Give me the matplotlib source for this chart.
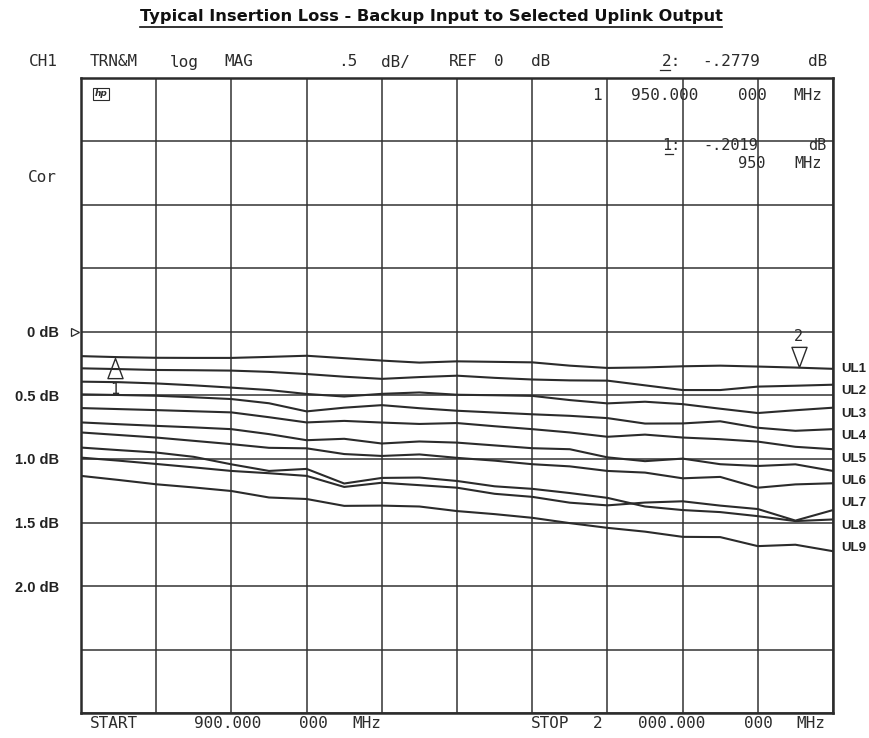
import numpy as np
import matplotlib
matplotlib.use("Agg")
import matplotlib.pyplot as plt
from matplotlib.path import Path
from matplotlib.lines import Line2D

# ---------------- data ----------------
freq_mhz = [900, 955, 1010, 1065, 1120, 1175, 1230, 1285, 1340, 1395, 1450,
            1505, 1560, 1615, 1670, 1725, 1780, 1835, 1890, 1945, 2000]

loss_1 = [0.190, 0.198, 0.203, 0.204, 0.204, 0.196, 0.187, 0.206, 0.225, 0.241, 0.231,
          0.235, 0.239, 0.265, 0.283, 0.279, 0.270, 0.265, 0.272, 0.280, 0.290]
loss_2 = [0.286, 0.292, 0.299, 0.301, 0.304, 0.314, 0.331, 0.352, 0.369, 0.355, 0.344,
          0.361, 0.374, 0.381, 0.383, 0.420, 0.457, 0.457, 0.430, 0.423, 0.415]
loss_3 = [0.391, 0.395, 0.405, 0.420, 0.438, 0.457, 0.488, 0.508, 0.487, 0.476, 0.494,
          0.498, 0.503, 0.536, 0.562, 0.549, 0.568, 0.604, 0.638, 0.616, 0.596]
loss_4 = [0.491, 0.496, 0.502, 0.514, 0.528, 0.561, 0.625, 0.596, 0.576, 0.600, 0.620,
          0.634, 0.648, 0.660, 0.678, 0.721, 0.720, 0.703, 0.754, 0.778, 0.765]
loss_5 = [0.599, 0.607, 0.615, 0.624, 0.633, 0.671, 0.712, 0.700, 0.713, 0.724, 0.717,
          0.742, 0.765, 0.791, 0.825, 0.808, 0.831, 0.844, 0.863, 0.904, 0.923]
loss_6 = [0.712, 0.726, 0.739, 0.751, 0.765, 0.804, 0.852, 0.841, 0.878, 0.862, 0.871,
          0.893, 0.915, 0.923, 0.987, 1.017, 0.997, 1.041, 1.055, 1.042, 1.094]
loss_7 = [0.791, 0.811, 0.831, 0.857, 0.883, 0.912, 0.916, 0.961, 0.976, 0.964, 0.991,
          1.013, 1.041, 1.058, 1.094, 1.107, 1.152, 1.141, 1.226, 1.200, 1.191]
loss_8 = [0.910, 0.930, 0.949, 0.983, 1.042, 1.094, 1.078, 1.193, 1.149, 1.146, 1.173,
          1.215, 1.235, 1.268, 1.306, 1.374, 1.402, 1.418, 1.450, 1.489, 1.476]
loss_9 = [0.989, 1.013, 1.039, 1.066, 1.094, 1.112, 1.133, 1.220, 1.187, 1.206, 1.226,
          1.274, 1.298, 1.344, 1.365, 1.343, 1.333, 1.367, 1.394, 1.485, 1.402]
loss_10 = [1.133, 1.165, 1.199, 1.224, 1.252, 1.303, 1.315, 1.369, 1.367, 1.374, 1.410,
           1.434, 1.463, 1.505, 1.542, 1.572, 1.613, 1.615, 1.686, 1.675, 1.726]
traces = [loss_1, loss_2, loss_3, loss_4, loss_5, loss_6, loss_7, loss_8, loss_9, loss_10]

trace_labels = ["UL1", "UL2", "UL3", "UL4", "UL5", "UL6", "UL7", "UL8", "UL9"]

y_tick_values = [0.0, 0.5, 1.0, 1.5, 2.0]
y_tick_text = ["0 dB", "0.5 dB", "1.0 dB", "1.5 dB", "2.0 dB"]

marker_freqs = [950, 1950]
marker_vals = [0.2019, 0.2779]
marker_names = ["1", "2"]

start_mhz, stop_mhz = 900, 2000
y_top, y_bottom = -2.0, 3.0
div_db = 0.5

title = "Typical Insertion Loss - Backup Input to Selected Uplink Output"

# ---------------- figure ----------------
W, H, DPI = 870, 738, 100
fig = plt.figure(figsize=(W / DPI, H / DPI), dpi=DPI)
fig.patch.set_facecolor("white")

AX_L, AX_T, AX_R, AX_B = 81, 78, 833, 713
ax = fig.add_axes([AX_L / W, 1 - AX_B / H, (AX_R - AX_L) / W, (AX_B - AX_T) / H])
ax.set_xlim(start_mhz, stop_mhz)
ax.set_ylim(y_bottom, y_top)

ink = "#2b2b2b"
grid_c = "#333333"

xt = np.linspace(start_mhz, stop_mhz, 11)
ax.set_xticks(xt)
ax.set_xticklabels([])
yt = np.arange(y_top, y_bottom + 1e-9, div_db)
ax.set_yticks(yt)
labels = []
for v in yt:
    lab = ""
    for tv, tt in zip(y_tick_values, y_tick_text):
        if abs(v - tv) < 1e-9:
            lab = tt
    labels.append(lab)
ax.set_yticklabels(labels, fontfamily="Liberation Sans", fontweight="bold",
                   fontsize=10.5, color="#222222")
ax.tick_params(axis="both", length=0)
ax.tick_params(axis="y", pad=16)
ax.grid(True, color=grid_c, linewidth=1.1)
ax.set_axisbelow(True)
for s in ax.spines.values():
    s.set_linewidth(1.8)
    s.set_color(ink)

for tr in traces:
    ax.plot(freq_mhz, tr, color=ink, linewidth=1.5, zorder=3)

# reference-level arrow at 0 dB
ax.plot([-0.008], [0.0], marker=">", ms=6, mfc="white", mec=ink, mew=0.9,
        transform=ax.get_yaxis_transform(), clip_on=False, zorder=5)

# markers
up_path = Path([(0, 0), (-0.375, -1), (0.375, -1), (0, 0)],
               [Path.MOVETO, Path.LINETO, Path.LINETO, Path.CLOSEPOLY])
dn_path = Path([(0, 0), (-0.375, 1), (0.375, 1), (0, 0)],
               [Path.MOVETO, Path.LINETO, Path.LINETO, Path.CLOSEPOLY])
mono = "DejaVu Sans Mono"
for i, (f, v, nm) in enumerate(zip(marker_freqs, marker_vals, marker_names)):
    path = up_path if i == 0 else dn_path
    ax.plot([f], [v], marker=path, ms=29, mfc="none", mec=ink, mew=1.0,
            linestyle="none", zorder=6, clip_on=False)
    dy = -23 if i == 0 else 22
    ax.annotate(nm, (f, v), xytext=(0, dy), textcoords="offset points",
                ha="center", va="center", fontsize=11, family=mono, color=ink)

# UL labels
ul_start, ul_step = 369, 22.4
for k, lab in enumerate(trace_labels):
    ypx = ul_start + k * ul_step
    ax.text(1 + 8 / (AX_R - AX_L), 1 - (ypx - AX_T) / (AX_B - AX_T), lab,
            transform=ax.transAxes, ha="left", va="center",
            fontfamily="Liberation Sans", fontweight="bold", fontsize=9.5,
            color="#222222")


def ptext(x, y, s, ha="center", size=11.5, **kw):
    return fig.text(x / W, 1 - y / H, s, ha=ha, va="center", fontsize=size,
                    family=mono, color=ink, **kw)


# header line
for s, cx in [("CH1", 43.5), ("TRN&M", 114), ("log", 184.5), ("MAG", 239),
              (".5", 347.5), ("dB/", 395), ("REF", 463), ("0", 499), ("dB", 541),
              ("2:", 671.5), ("-.2779", 731), ("dB", 817.5)]:
    ptext(cx, 62, s)
fig.add_artist(Line2D([660 / W, 670 / W], [1 - 70 / H, 1 - 70 / H], color=ink, lw=0.9))

ptext(42.5, 178, "Cor")

# marker readouts inside grid
for s, cx in [("1", 596.5), ("950.000", 665), ("000", 752.5), ("MHz", 808)]:
    ptext(cx, 95, s)
for s, cx, cy in [("1:", 671.5, 146), ("-.2019", 731, 146), ("dB", 817.5, 145)]:
    ptext(cx, cy, s, size=11)
for s, cx, cy in [("950", 752, 163), ("MHz", 808, 164)]:
    ptext(cx, cy, s, size=11)
fig.add_artist(Line2D([665 / W, 673 / W], [1 - 154 / H, 1 - 154 / H], color=ink, lw=0.9))

# hp logo
fig.text(101 / W, 1 - 94 / H, "hp", ha="center", va="center", fontsize=6.5,
         style="italic", fontweight="bold", family="DejaVu Sans", color=ink,
         bbox=dict(boxstyle="square,pad=0.12", fc="white", ec=ink, lw=0.8))

# bottom line
for s, cx in [("START", 113.5), ("900.000", 228), ("000", 313.5), ("MHz", 366.5),
              ("STOP", 550), ("2", 597.5), ("000.000", 672), ("000", 758.5), ("MHz", 811)]:
    ptext(cx, 724, s)

# title (bold, underlined)
t = fig.text(431 / W, 1 - 17 / H, title, ha="center", va="center",
             fontsize=10, fontweight="bold", family="DejaVu Sans", color="#111111")
fig.canvas.draw()
bb = t.get_window_extent(renderer=fig.canvas.get_renderer())
t.set_fontsize(10 * 582 / bb.width)
fig.canvas.draw()
bb = t.get_window_extent(renderer=fig.canvas.get_renderer())
fig.add_artist(Line2D([bb.x0 / W, bb.x1 / W], [1 - 26.5 / H, 1 - 26.5 / H],
                      color="#111111", lw=1.2))

fig.savefig("out.png", dpi=DPI, facecolor="white")
